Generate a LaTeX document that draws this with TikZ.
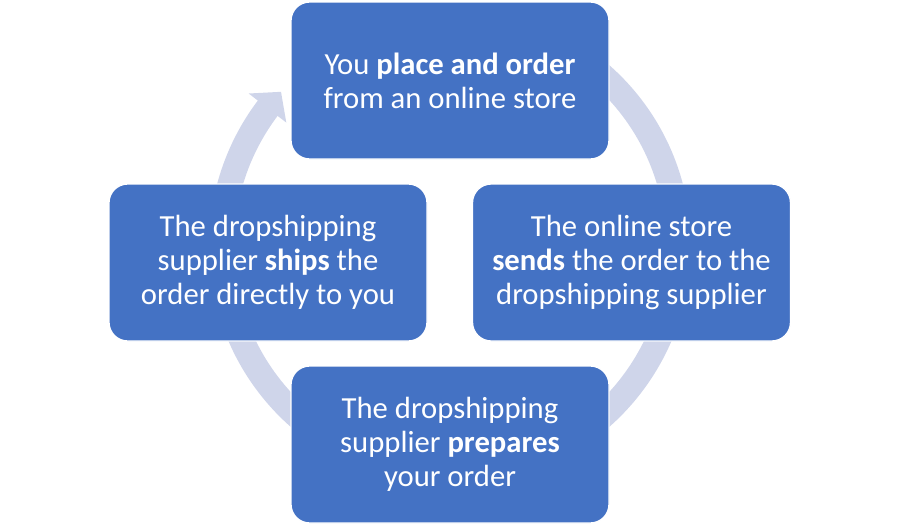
\documentclass[tikz,border=0pt]{standalone}
\usepackage{fontspec}
\setmainfont{Carlito}
\definecolor{boxblue}{HTML}{4472C4}
\definecolor{ringblue}{HTML}{CFD5EA}
\begin{document}
\begin{tikzpicture}[x=0.75pt,y=-0.75pt,
  stepbox/.style={draw=white, line width=1pt, fill=boxblue, rounded corners=14pt,
    text=white, align=center, inner sep=0pt,
    minimum width=238.5pt, minimum height=117.75pt,
    font=\fontsize{23}{25.5}\selectfont},
  ring/.style={draw=ringblue, line width=18.75pt}]
\useasboundingbox (0,0) rectangle (900,526);
% circular arrow behind the boxes
\draw[ring] (410.32,20.97) arc[start angle=-100, end angle=217.5, radius=228.5];
\fill[ringblue] (248.7,93.5) -- (281,91.8) -- (286.3,122.6) -- cycle;
% boxes
\node[stepbox] (n1) at (450,80.5) {You \textbf{place and order}\\from an online store};
\node[stepbox] (n2) at (631.5,262.5) {The online store\\\textbf{sends} the order to the\\dropshipping supplier};
\node[stepbox] (n3) at (450,444.5) {The dropshipping\\supplier \textbf{prepares}\\your order};
\node[stepbox] (n4) at (268,262.5) {The dropshipping\\supplier \textbf{ships} the\\order directly to you};
\end{tikzpicture}
\end{document}
